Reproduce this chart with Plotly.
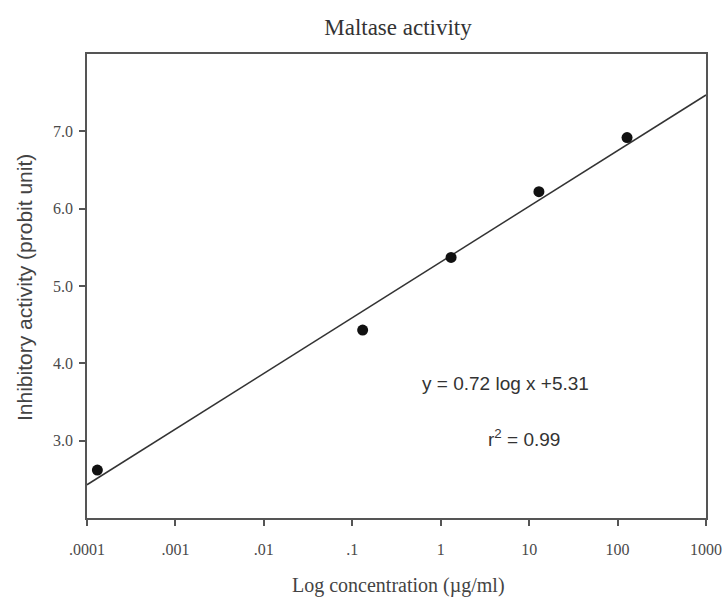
import numpy as np
import plotly.graph_objects as go

# Data
conc = [0.000131, 0.131, 1.31, 12.9, 128]
probit = [2.62, 4.43, 5.37, 6.22, 6.92]

# Regression line (from the printed equation)
slope = 0.72
intercept = 5.31
line_x = [0.0001, 1000]
line_y = [slope * np.log10(v) + intercept for v in line_x]

x_tickvals = [0.0001, 0.001, 0.01, 0.1, 1, 10, 100, 1000]
x_ticktext = [".0001", ".001", ".01", ".1", "1", "10", "100", "1000"]
y_tickvals = [3, 4, 5, 6, 7]
y_ticktext = ["3.0", "4.0", "5.0", "6.0", "7.0"]

fig = go.Figure()
fig.add_trace(go.Scatter(x=line_x, y=line_y, mode="lines",
                         line=dict(color="#333333", width=1.5),
                         showlegend=False, hoverinfo="skip"))
fig.add_trace(go.Scatter(x=conc, y=probit, mode="markers",
                         marker=dict(color="#111111", size=11),
                         showlegend=False))

axis_common = dict(showline=True, linecolor="#555555", linewidth=1.5,
                   mirror=True, ticks="outside", ticklen=6, tickwidth=1.5,
                   tickcolor="#555555", showgrid=False, zeroline=False,
                   automargin=False)

fig.update_xaxes(type="log", range=[-4, 3], tickvals=x_tickvals,
                 ticktext=x_ticktext, ticklabelstandoff=10,
                 tickfont=dict(family="Liberation Serif", size=16, color="#4a4a4a"),
                 **axis_common)
fig.update_yaxes(range=[2, 8], tickvals=y_tickvals, ticktext=y_ticktext,
                 ticklabelstandoff=3,
                 tickfont=dict(family="Liberation Serif", size=16, color="#4a4a4a"),
                 **axis_common)

fig.update_layout(
    width=725, height=599,
    margin=dict(l=87, r=19, t=54, b=81),
    paper_bgcolor="white", plot_bgcolor="white",
    title=dict(text="Maltase activity", x=(398 / 725), xanchor="center",
               y=1 - 27 / 599, yanchor="middle", yref="container",
               font=dict(family="Liberation Serif", size=23, color="#333333")),
    annotations=[
        dict(text="Log concentration (µg/ml)", xref="paper", yref="paper",
             x=(398 - 87) / 619, y=(518 - 585) / 464, xanchor="center",
             yanchor="middle", showarrow=False,
             font=dict(family="Liberation Serif", size=20, color="#444444")),
        dict(text="Inhibitory activity (probit unit)", xref="paper", yref="paper",
             x=(24 - 87) / 619, y=(518 - 288) / 464, xanchor="center",
             yanchor="middle", textangle=-90, showarrow=False,
             font=dict(family="Liberation Sans", size=21, color="#444444")),
        dict(text="y = 0.72 log x +5.31", xref="paper", yref="paper",
             x=(505 - 87) / 619, y=(518 - 383) / 464, xanchor="center",
             yanchor="middle", showarrow=False,
             font=dict(family="Liberation Sans", size=19, color="#333333")),
        dict(text="r<sup>2</sup> = 0.99", xref="paper", yref="paper",
             x=(524 - 87) / 619, y=(518 - 438) / 464, xanchor="center",
             yanchor="middle", showarrow=False,
             font=dict(family="Liberation Sans", size=19, color="#333333")),
    ],
)

fig.write_html("out.html")
